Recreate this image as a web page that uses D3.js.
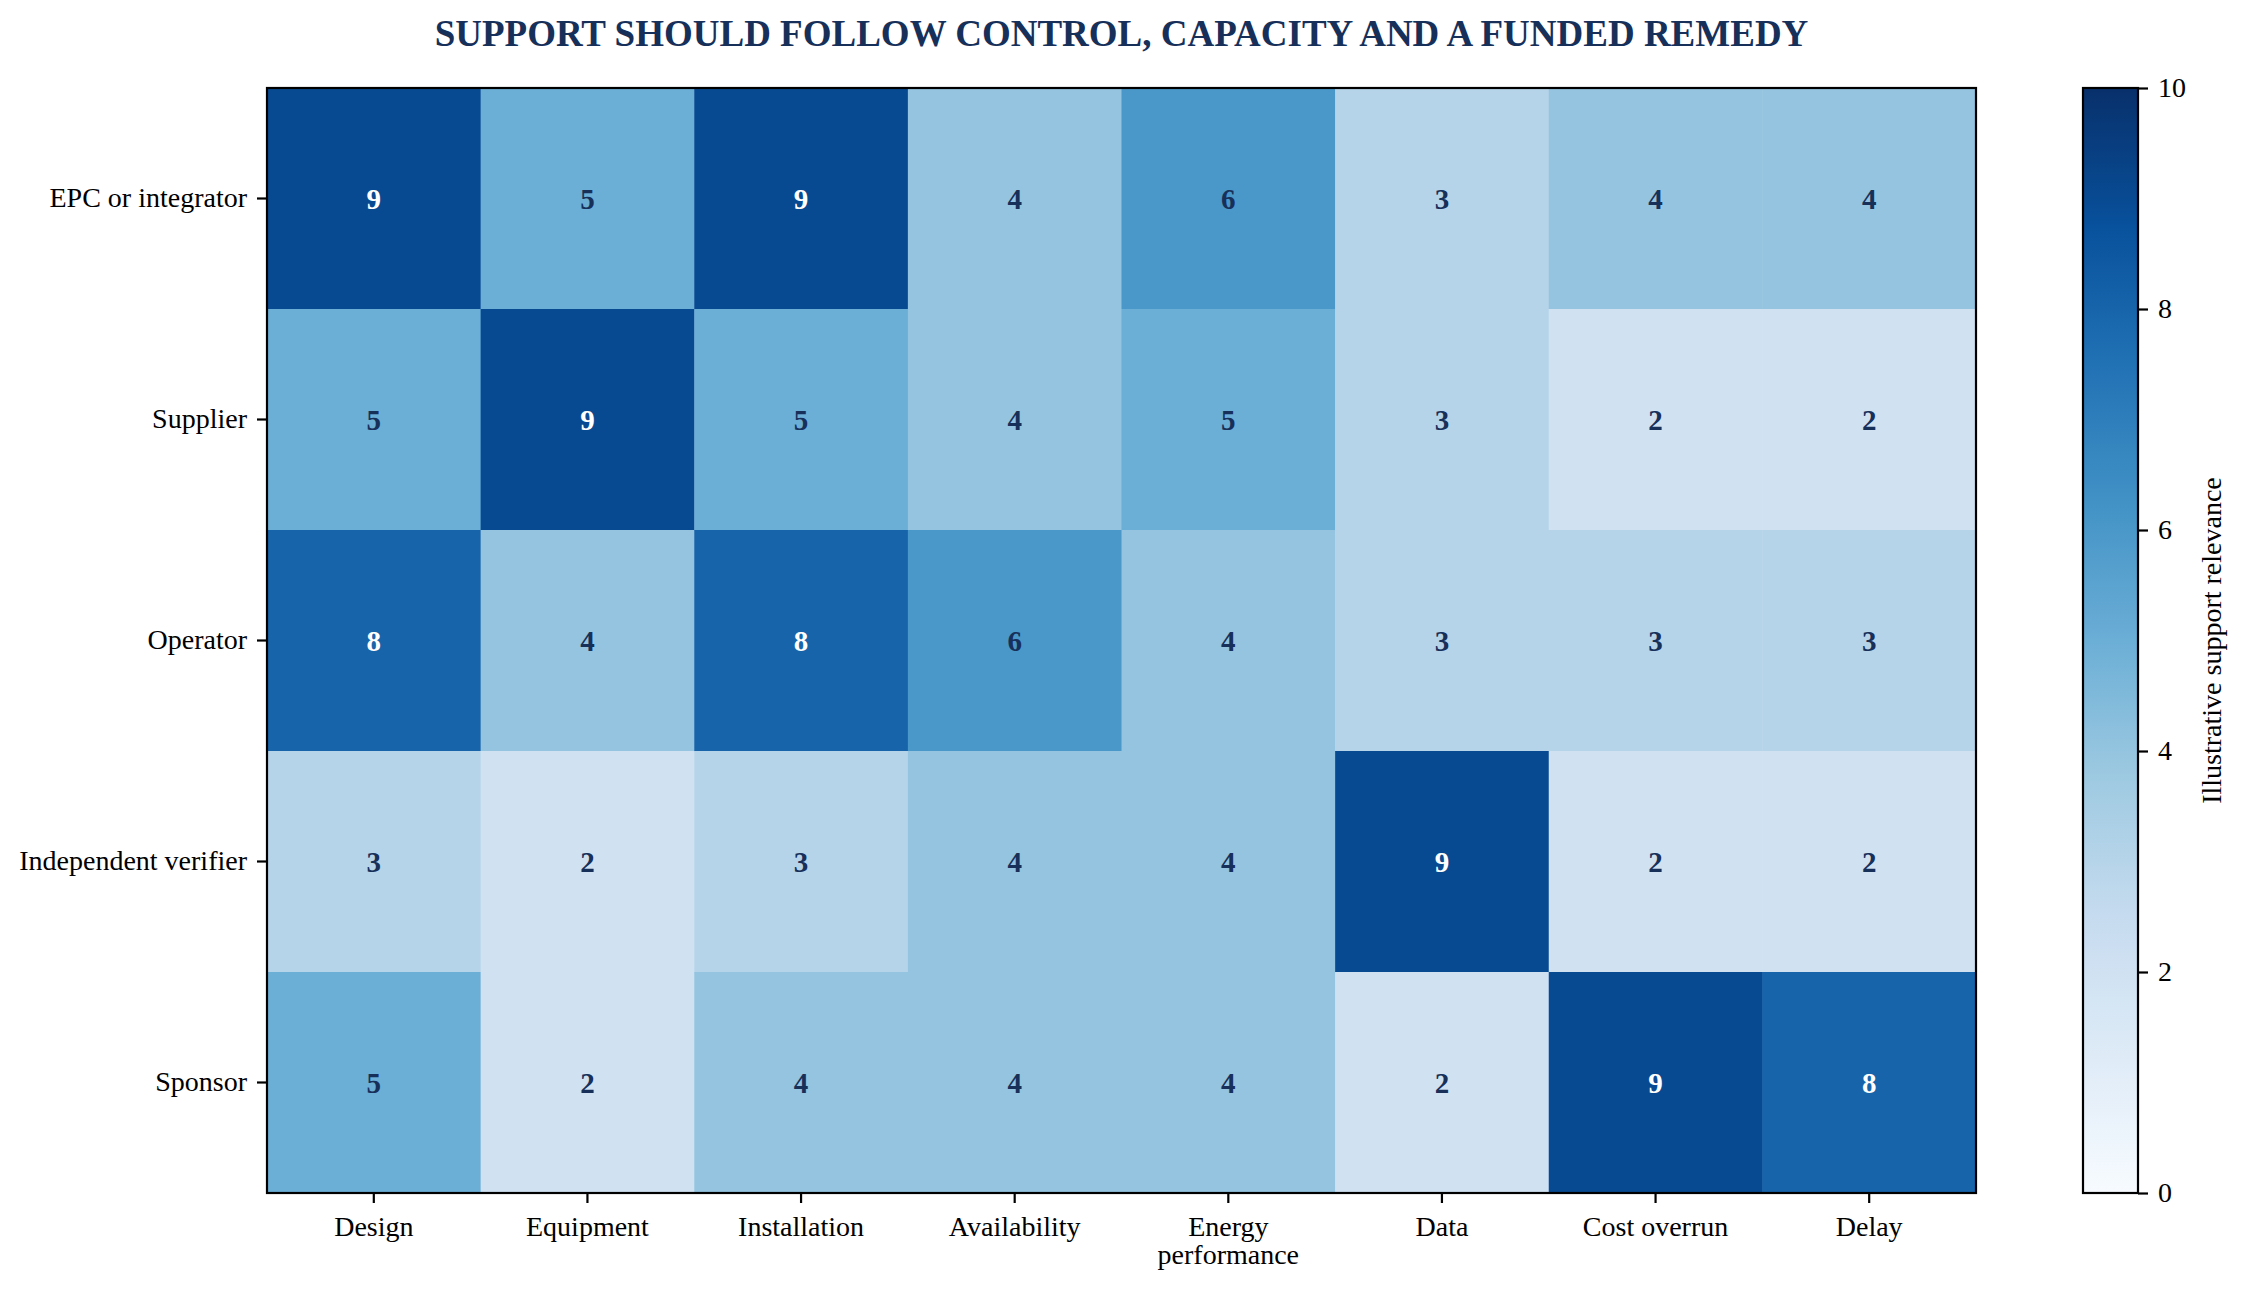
<!DOCTYPE html>
<html>
<head>
<meta charset="utf-8">
<script src="https://cdn.jsdelivr.net/npm/d3@7"></script>
<style>
  body { margin: 0; background: #fff; }
  text { font-family: "Liberation Serif", "Times New Roman", serif; }
</style>
</head>
<body>
<div id="chart"></div>
<script>
// data
var parties = ["EPC or integrator", "Supplier", "Operator", "Independent verifier", "Sponsor"];
var risks = ["Design", "Equipment", "Installation", "Availability", "Energy performance", "Data", "Cost overrun", "Delay"];
var epcValues      = [9, 5, 9, 4, 6, 3, 4, 4];
var supplierValues = [5, 9, 5, 4, 5, 3, 2, 2];
var operatorValues = [8, 4, 8, 6, 4, 3, 3, 3];
var verifierValues = [3, 2, 3, 4, 4, 9, 2, 2];
var sponsorValues  = [5, 2, 4, 4, 4, 2, 9, 8];
var colorTicks = [0, 2, 4, 6, 8, 10];
var title = "SUPPORT SHOULD FOLLOW CONTROL, CAPACITY AND A FUNDED REMEDY";
var cbLabel = "Illustrative support relevance";

var rows = [epcValues, supplierValues, operatorValues, verifierValues, sponsorValues];
var cells = [];
rows.forEach(function(vals, i) {
  vals.forEach(function(v, j) {
    cells.push({party: parties[i], risk: risks[j], value: v});
  });
});

var W = 2250, H = 1296;
var margin = {top: 88, left: 267, right: 274, bottom: 103};
var width = W - margin.left - margin.right,
    height = H - margin.top - margin.bottom;
var navy = "#17305a";

// matplotlib style "Blues"
var blues = ["#f7fbff","#deebf7","#c6dbef","#9ecae1","#6baed6","#4292c6","#2171b5","#08519c","#08306b"];
var color = d3.scaleLinear()
  .domain(d3.range(blues.length).map(function(i) { return i * 10 / (blues.length - 1); }))
  .range(blues)
  .clamp(true);

var svg = d3.select("#chart").append("svg")
  .attr("width", W)
  .attr("height", H);

svg.append("text")
  .attr("x", margin.left + width / 2)
  .attr("y", 46)
  .attr("text-anchor", "middle")
  .style("font-size", "37px")
  .style("font-weight", "bold")
  .style("fill", navy)
  .text(title);

var g = svg.append("g")
  .attr("transform", "translate(" + margin.left + "," + margin.top + ")");

var x = d3.scaleBand().domain(risks).range([0, width]).padding(0);
var y = d3.scaleBand().domain(parties).range([0, height]).padding(0);

g.selectAll("rect.cell")
  .data(cells)
  .enter()
  .append("rect")
    .attr("class", "cell")
    .attr("x", function(d) { return x(d.risk); })
    .attr("y", function(d) { return y(d.party); })
    .attr("width", x.bandwidth() + 0.5)
    .attr("height", y.bandwidth() + 0.5)
    .style("fill", function(d) { return color(d.value); });

g.selectAll("text.val")
  .data(cells)
  .enter()
  .append("text")
    .attr("class", "val")
    .attr("x", function(d) { return x(d.risk) + x.bandwidth() / 2; })
    .attr("y", function(d) { return y(d.party) + y.bandwidth() / 2; })
    .attr("text-anchor", "middle")
    .attr("dominant-baseline", "central")
    .style("font-size", "29px")
    .style("font-weight", "bold")
    .style("fill", function(d) { return d.value > 6 ? "#ffffff" : navy; })
    .text(function(d) { return d.value; });

// axes
var xAxis = g.append("g")
  .attr("transform", "translate(0," + height + ")")
  .call(d3.axisBottom(x).tickSize(10).tickPadding(10).tickFormat(""));
var yAxis = g.append("g")
  .call(d3.axisLeft(y).tickSize(10).tickPadding(10));

[xAxis, yAxis].forEach(function(a) {
  a.select(".domain").remove();
  a.selectAll(".tick line").attr("stroke", "#000").attr("stroke-width", 2.2);
});
yAxis.selectAll(".tick text")
  .style("font-size", "28px")
  .style("fill", "#000")
  .attr("font-family", null);

// wrap the two word label onto two lines
xAxis.selectAll(".tick").each(function(d) {
  var words = d === "Energy performance" ? ["Energy", "performance"] : [d];
  var t = d3.select(this).append("text")
    .attr("y", 43)
    .attr("text-anchor", "middle")
    .style("font-size", "28px")
    .style("fill", "#000");
  words.forEach(function(w, i) {
    t.append("tspan").attr("x", 0).attr("dy", i === 0 ? 0 : "1.0em").text(w);
  });
});

g.append("rect")
  .attr("width", width)
  .attr("height", height)
  .style("fill", "none")
  .style("stroke", "#000")
  .style("stroke-width", 2.2);

// colorbar
var cbX = 2083, cbW = 55;
var cy = d3.scaleLinear().domain([0, 10]).range([margin.top + height, margin.top]);

var grad = svg.append("defs").append("linearGradient")
  .attr("id", "cbgrad")
  .attr("x1", "0").attr("y1", "1").attr("x2", "0").attr("y2", "0");
grad.selectAll("stop")
  .data(d3.range(0, 10.01, 0.25))
  .enter()
  .append("stop")
    .attr("offset", function(d) { return d / 10; })
    .attr("stop-color", function(d) { return color(d); });

svg.append("rect")
  .attr("x", cbX)
  .attr("y", margin.top)
  .attr("width", cbW)
  .attr("height", height)
  .style("fill", "url(#cbgrad)")
  .style("stroke", "#000")
  .style("stroke-width", 2.2);

var cbAxis = svg.append("g")
  .attr("transform", "translate(" + (cbX + cbW) + ",0)")
  .call(d3.axisRight(cy).tickValues(colorTicks).tickSize(10).tickPadding(10));
cbAxis.select(".domain").remove();
cbAxis.selectAll(".tick line").attr("stroke", "#000").attr("stroke-width", 2.2);
cbAxis.selectAll(".tick text")
  .style("font-size", "28px")
  .style("fill", "#000")
  .attr("font-family", null);

svg.append("text")
  .attr("transform", "translate(2221," + (margin.top + height / 2) + ") rotate(-90)")
  .attr("text-anchor", "middle")
  .style("font-size", "28px")
  .style("fill", "#000")
  .text(cbLabel);
</script>
</body>
</html>
